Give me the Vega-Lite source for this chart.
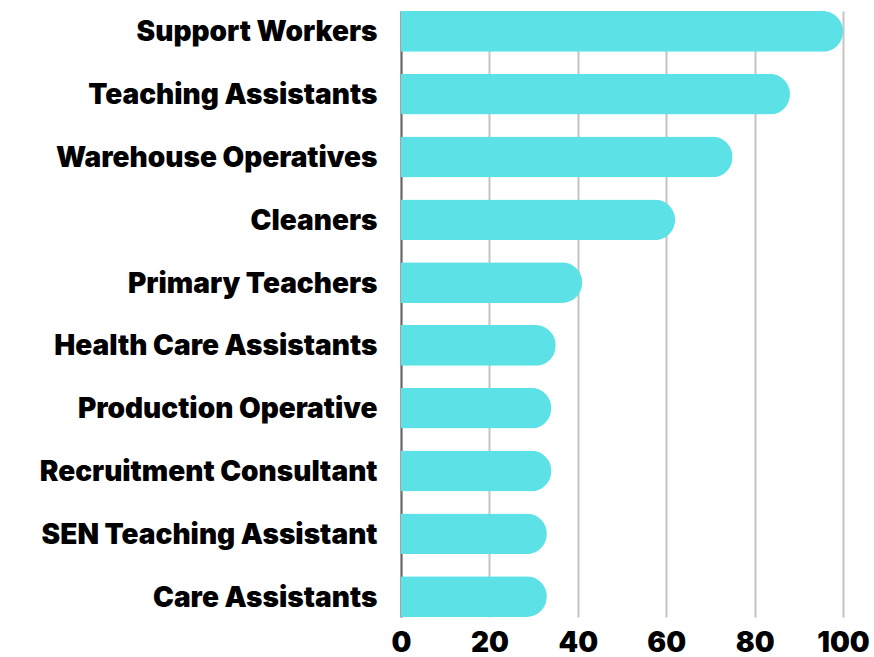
{
  "$schema": "https://vega.github.io/schema/vega-lite/v6.json",
  "autosize": {"type": "none"},
  "padding": {"left": 401, "top": 11, "right": 31, "bottom": 40},
  "width": 442,
  "height": 606,
  "background": "white",
  "data": {"values": [
    {"job": "Support Workers", "value": 100},
    {"job": "Teaching Assistants", "value": 88},
    {"job": "Warehouse Operatives", "value": 75},
    {"job": "Cleaners", "value": 62},
    {"job": "Primary Teachers", "value": 41},
    {"job": "Health Care Assistants", "value": 35},
    {"job": "Production Operative", "value": 34},
    {"job": "Recruitment Consultant", "value": 34},
    {"job": "SEN Teaching Assistant", "value": 33},
    {"job": "Care Assistants", "value": 33}
  ]},
  "mark": {"type": "bar", "color": "#5ce1e6", "cornerRadiusEnd": 20.5},
  "encoding": {
    "y": {
      "field": "job", "type": "nominal", "sort": null, "title": null,
      "scale": {"paddingInner": 0.35, "paddingOuter": 0},
      "axis": {
        "ticks": false, "domain": true, "domainColor": "#666666", "domainWidth": 2,
        "labelFont": "Inter", "labelFontWeight": 900, "labelFontSize": 28,
        "labelColor": "#000000", "labelPadding": 24, "labelLimit": 400, "labelOffset": 2
      }
    },
    "x": {
      "field": "value", "type": "quantitative", "title": null,
      "scale": {"domain": [0, 100]},
      "axis": {
        "values": [0, 20, 40, 60, 80, 100],
        "ticks": false, "domain": false,
        "grid": true, "gridColor": "#c4c4c4", "gridWidth": 2,
        "labelFont": "Inter", "labelFontWeight": 900, "labelFontSize": 28,
        "labelColor": "#000000", "labelPadding": 12, "labelFlush": false
      }
    }
  },
  "config": {"view": {"stroke": null}}
}
